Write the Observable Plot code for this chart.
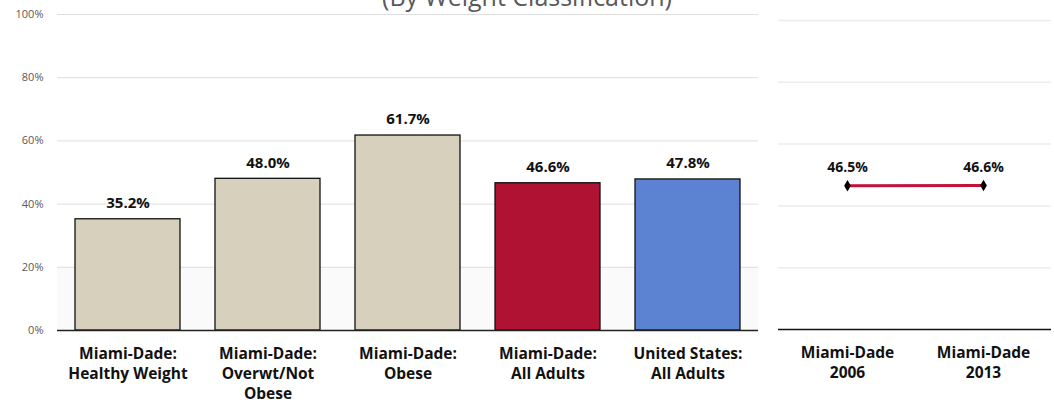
<!DOCTYPE html>
<html><head><meta charset="utf-8">
<script src="https://cdn.jsdelivr.net/npm/d3@7"></script>
<script src="https://cdn.jsdelivr.net/npm/@observablehq/plot@0.6"></script>
<style>
body{margin:0;background:#fff;font-family:"Open Sans",sans-serif}
#wrap{position:relative;width:1054px;height:406px;overflow:hidden}
#title{position:absolute;top:-16px;left:0;width:1054px;text-align:center;font-size:25px;line-height:25px;color:#595959;white-space:nowrap}
#left{position:absolute;left:0;top:0}
#right{position:absolute;left:764px;top:0}
</style></head>
<body>
<div id="wrap">
<div id="left"></div>
<div id="right"></div>
<div id="title">(By Weight Classification)</div>
</div>
<script>
const categories = ["Miami-Dade:\nHealthy Weight", "Miami-Dade:\nOverwt/Not\nObese", "Miami-Dade:\nObese", "Miami-Dade:\nAll Adults", "United States:\nAll Adults"];
const values = [35.2, 48.0, 61.7, 46.6, 47.8];
const barColors = ["#d6d0bd", "#d6d0bd", "#d6d0bd", "#b01233", "#5b83d1"];
const trendLabels = ["Miami-Dade\n2006", "Miami-Dade\n2013"];
const trendValues = [46.5, 46.6];
const yTicks = [0, 20, 40, 60, 80, 100];

const bars = categories.map((c, i) => ({cat: c, v: values[i], color: barColors[i]}));
const trend = trendLabels.map((c, i) => ({cat: c, v: trendValues[i]}));
const font = '"Open Sans", sans-serif';

const left = Plot.plot({
  width: 760, height: 406,
  marginLeft: 57, marginRight: 2, marginTop: 14, marginBottom: 76,
  style: {fontFamily: font, background: "transparent"},
  x: {domain: categories, paddingInner: 0.25, paddingOuter: 0.125, label: null},
  y: {domain: [0, 100], label: null},
  marks: [
    Plot.rect([0], {y1: yTicks[0], y2: yTicks[1], fill: "#fafafa"}),
    Plot.ruleY(yTicks.slice(1), {stroke: "#dedede", strokeWidth: 1}),
    Plot.barY(bars, {x: "cat", y: "v", fill: "color", stroke: "#111", strokeWidth: 1.3}),
    Plot.ruleY([0], {stroke: "#222", strokeWidth: 1.5}),
    Plot.text(bars, {x: "cat", y: "v", text: d => d.v.toFixed(1) + "%", dy: -16, fontSize: 15, fontWeight: "bold", fill: "#111"}),
    Plot.axisY({ticks: yTicks, tickFormat: d => d + "%", tickSize: 0, tickPadding: 14, fontSize: 11, color: "#595959", label: null}),
    Plot.axisX({tickSize: 0, tickPadding: 14, fontSize: 15.5, fontWeight: "bold", lineHeight: 1.3, color: "#111", label: null})
  ]
});
document.getElementById("left").append(left);

const right = Plot.plot({
  width: 290, height: 406,
  marginLeft: 14, marginRight: 3, marginTop: 20, marginBottom: 77,
  style: {fontFamily: font, background: "transparent"},
  x: {type: "point", domain: trendLabels, padding: 0.5, label: null},
  y: {domain: [0, 100], label: null, axis: null},
  marks: [
    Plot.ruleY(yTicks.slice(1), {stroke: "#ececec", strokeWidth: 1.5}),
    Plot.ruleY([0], {stroke: "#111", strokeWidth: 1.5}),
    Plot.line(trend, {x: "cat", y: "v", stroke: "#c0123a", strokeWidth: 3}),
    Plot.dot(trend, {x: "cat", y: "v", symbol: "diamond", fill: "#000", r: 3.5}),
    Plot.text(trend, {x: "cat", y: "v", text: d => d.v.toFixed(1) + "%", dy: -18, fontSize: 14, fontWeight: "bold", fill: "#111"}),
    Plot.axisX({tickSize: 0, tickPadding: 14, fontSize: 15.5, fontWeight: "bold", lineHeight: 1.3, color: "#111", label: null})
  ]
});
document.getElementById("right").append(right);
</script>
</body></html>
